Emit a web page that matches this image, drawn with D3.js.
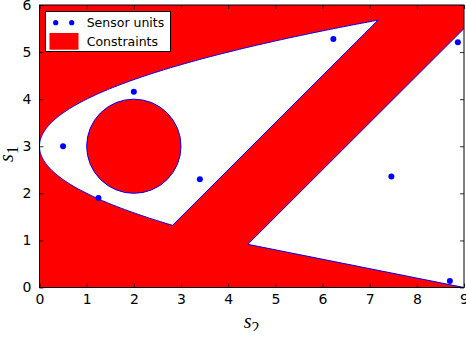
<!DOCTYPE html>
<html>
<head>
<meta charset="utf-8">
<script src="https://cdn.jsdelivr.net/npm/d3@7/dist/d3.min.js"></script>
<style>
  html, body { margin: 0; padding: 0; background: #fff; }
  svg { display: block; overflow: hidden; }
</style>
</head>
<body>
<script>
// ---- data ----
const sensorS2 = [0.5, 1.25, 2.0, 3.4, 6.23, 7.46, 8.7, 8.87];
const sensorS1 = [3.0, 1.9, 4.16, 2.3, 5.28, 2.36, 0.14, 5.21];
// circle constraint: center (s2, s1), radius
const circleC = [2, 3, 1];
// parabola constraint: s2 = (s1 - vertexS1)^2
const parabolaVertexS1 = [3];
// line constraints s1 = slope*s2 + intercept
const lineSlopes = [1, 1, -0.2];
const lineIntercepts = [-1.5, -3.5, 1.8];
const xTicks = [0, 1, 2, 3, 4, 5, 6, 7, 8, 9];
const yTicks = [0, 1, 2, 3, 4, 5, 6];
const legendLabels = ["Sensor units", "Constraints"];

// ---- layout ----
const W = 466, H = 331;
const pL = 39.5, pR = 464, pT = 5, pB = 287.5;
const RED = "#ff0000", BLUE = "#0000ff";

const x = d3.scaleLinear().domain([0, 9]).range([pL, pR]);
const y = d3.scaleLinear().domain([0, 6]).range([pB, pT]);

const svg = d3.select("body").append("svg").attr("width", W).attr("height", H);

svg.append("clipPath").attr("id", "plotclip")
  .append("rect").attr("x", pL).attr("y", pT)
  .attr("width", pR - pL).attr("height", pB - pT);

const g = svg.append("g").attr("clip-path", "url(#plotclip)");

// red background (infeasible)
g.append("rect").attr("x", pL).attr("y", pT)
  .attr("width", pR - pL).attr("height", pB - pT).attr("fill", RED);

// Region 1: right of parabola, above line 0
const v = parabolaVertexS1[0];
const m0 = lineSlopes[0], b0 = lineIntercepts[0];
const qb = -(2 * v + 1 / m0), qc = v * v + b0 / m0;
const disc = Math.sqrt(qb * qb - 4 * qc);
const s1lo = (-qb - disc) / 2, s1hi = (-qb + disc) / 2;
const region1 = d3.range(0, 401).map(i => {
  const s1 = s1lo + (s1hi - s1lo) * i / 400;
  return [(s1 - v) ** 2, s1];
});
const line = d3.line().x(d => x(d[0])).y(d => y(d[1]));
g.append("path").attr("d", line(region1) + "Z")
  .attr("fill", "#fff").attr("stroke", BLUE).attr("stroke-width", 1);

// Region 2: between line 1 (above) and line 2 (below)
const m1 = lineSlopes[1], b1 = lineIntercepts[1];
const m2 = lineSlopes[2], b2 = lineIntercepts[2];
const vx = (b2 - b1) / (m1 - m2), vy = m1 * vx + b1;
const region2 = [[vx, vy], [9, m1 * 9 + b1], [9, m2 * 9 + b2]];
g.append("path").attr("d", line(region2) + "Z").attr("fill", "#fff");
g.append("path").attr("d", line([region2[1], region2[0], region2[2]]))
  .attr("fill", "none").attr("stroke", BLUE).attr("stroke-width", 1);

// circle constraint
g.append("ellipse")
  .attr("cx", x(circleC[0])).attr("cy", y(circleC[1]))
  .attr("rx", x(circleC[2]) - x(0)).attr("ry", y(0) - y(circleC[2]))
  .attr("fill", RED).attr("stroke", BLUE).attr("stroke-width", 1);

// sensor points
g.selectAll("circle.pt").data(sensorS2.map((s, i) => [s, sensorS1[i]]))
  .enter().append("circle").attr("class", "pt")
  .attr("cx", d => x(d[0])).attr("cy", d => y(d[1])).attr("r", 3)
  .attr("fill", BLUE);

// axes
const font = "'DejaVu Sans', sans-serif";
const axB = svg.append("g").attr("transform", `translate(0,${pB})`)
  .call(d3.axisBottom(x).tickValues(xTicks).tickFormat(d3.format("d")).tickSizeInner(-4).tickSizeOuter(0).tickPadding(7));
const axT = svg.append("g").attr("transform", `translate(0,${pT})`)
  .call(d3.axisTop(x).tickValues(xTicks).tickFormat("").tickSizeInner(-4).tickSizeOuter(0));
const axL = svg.append("g").attr("transform", `translate(${pL},0)`)
  .call(d3.axisLeft(y).tickValues(yTicks).tickFormat(d3.format("d")).tickSizeInner(-4).tickSizeOuter(0).tickPadding(8));
const axR = svg.append("g").attr("transform", `translate(${pR},0)`)
  .call(d3.axisRight(y).tickValues(yTicks).tickFormat("").tickSizeInner(-4).tickSizeOuter(0));
[axB, axT, axL, axR].forEach(a => {
  a.select(".domain").remove();
  a.selectAll("line").attr("stroke", "#000").attr("stroke-width", 0.8);
  a.selectAll("text").attr("font-family", font).attr("font-size", 14).attr("fill", "#000");
});
// spines
svg.append("rect").attr("x", pL).attr("y", pT)
  .attr("width", pR - pL).attr("height", pB - pT)
  .attr("fill", "none").attr("stroke", "#000").attr("stroke-width", 1);

// axis labels
const serif = "'Liberation Serif', 'DejaVu Serif', serif";
const xl = svg.append("text").attr("x", 251.7).attr("y", 328.3)
  .attr("text-anchor", "middle").attr("font-family", serif).attr("fill", "#000");
xl.append("tspan").attr("font-style", "italic").attr("font-size", 20).text("s");
xl.append("tspan").attr("font-size", 16).attr("dy", 5).text("2");

const yl = svg.append("text").attr("transform", "translate(13.3,154) rotate(-90)")
  .attr("text-anchor", "middle").attr("font-family", serif).attr("fill", "#000");
yl.append("tspan").attr("font-style", "italic").attr("font-size", 20).text("s");
yl.append("tspan").attr("font-size", 16).attr("dy", 5).text("1");

// legend
const lg = svg.append("g");
lg.append("rect").attr("x", 45.5).attr("y", 11.5).attr("width", 125).attr("height", 40)
  .attr("fill", "#fff").attr("stroke", "#000").attr("stroke-width", 1);
[55.7, 71.7].forEach(cx => lg.append("circle").attr("cx", cx).attr("cy", 22.7).attr("r", 2.6).attr("fill", BLUE));
lg.append("rect").attr("x", 49.5).attr("y", 33).attr("width", 29).attr("height", 16.7).attr("fill", RED);
lg.selectAll("text.lab").data(legendLabels).enter().append("text").attr("class", "lab")
  .attr("x", 86.7).attr("y", (d, i) => i === 0 ? 26.8 : 45.6)
  .attr("font-family", font).attr("font-size", 12.5).attr("fill", "#000").text(d => d);
</script>
</body>
</html>
